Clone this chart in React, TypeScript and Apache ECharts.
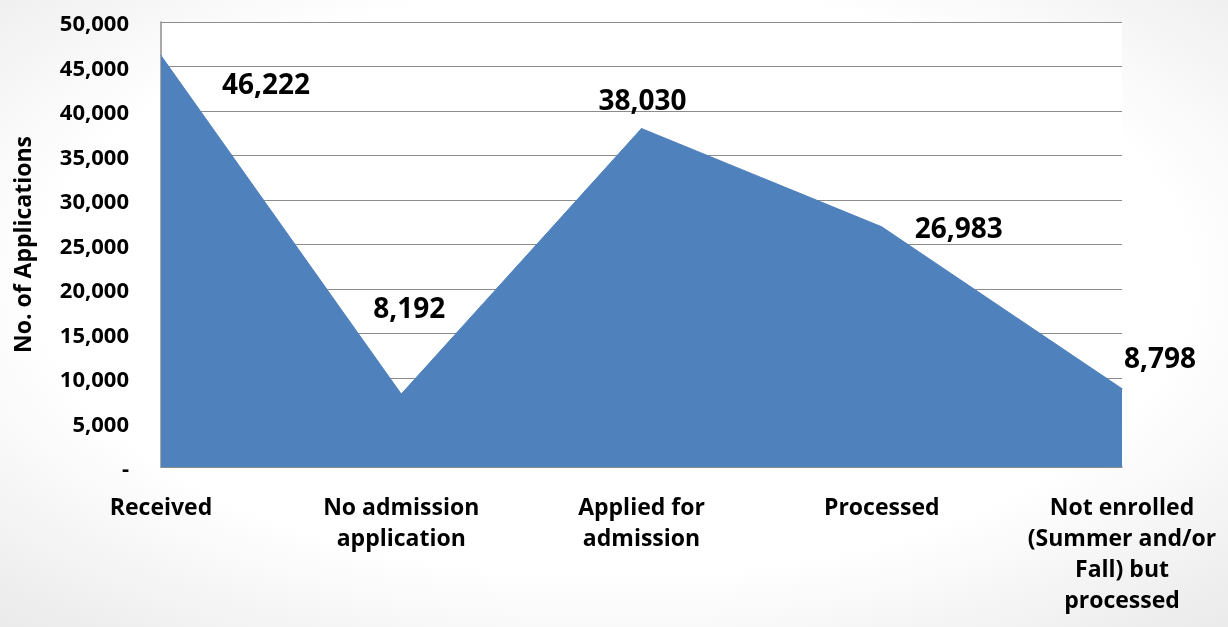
import React, { useEffect, useRef } from "react";
import * as echarts from "echarts";

const categories = [
  "Received",
  "No admission\napplication",
  "Applied for\nadmission",
  "Processed",
  "Not enrolled\n(Summer and/or\nFall) but\nprocessed",
];
const values = [46222, 8192, 38030, 26983, 8798];
const labelOffsets: [number, number][] = [
  [105, 27],
  [8, -87],
  [1, -30],
  [77, 0],
  [38, -32],
];
const yMin = 0;
const yMax = 50000;
const yInterval = 5000;

const FONT = "Open Sans";

export default function App() {
  const ref = useRef<HTMLDivElement>(null);
  useEffect(() => {
    if (!ref.current) return;
    const chart = echarts.init(ref.current, null, { renderer: "svg" });
    chart.setOption({
      animation: false,
      backgroundColor: {
        type: "radial",
        x: 0.5,
        y: 0.45,
        r: 0.85,
        colorStops: [
          { offset: 0, color: "#ffffff" },
          { offset: 0.55, color: "#ffffff" },
          { offset: 1, color: "#e2e2e2" },
        ],
      },
      grid: {
        left: 161,
        right: 106,
        top: 22,
        bottom: 160,
        show: true,
        backgroundColor: "#ffffff",
        borderWidth: 0,
      },
      xAxis: {
        type: "category",
        data: categories,
        boundaryGap: false,
        axisLine: { show: true, lineStyle: { color: "#8c8c8c", width: 1.5 } },
        axisTick: { show: false },
        axisLabel: {
          interval: 0,
          margin: 23,
          color: "#000",
          fontFamily: FONT,
          fontWeight: "bold",
          fontSize: 23,
          lineHeight: 31,
          align: "center",
        },
      },
      yAxis: {
        type: "value",
        min: yMin,
        max: yMax,
        interval: yInterval,
        name: "No. of Applications",
        nameLocation: "middle",
        nameGap: 128,
        nameTextStyle: {
          color: "#000",
          fontFamily: FONT,
          fontWeight: "bold",
          fontSize: 23,
        },
        axisLine: { show: true, lineStyle: { color: "#8c8c8c", width: 1.5 } },
        axisTick: { show: false },
        splitLine: { show: true, lineStyle: { color: "#8c8c8c", width: 1.2 } },
        axisLabel: {
          margin: 32,
          color: "#000",
          fontFamily: FONT,
          fontWeight: "bold",
          fontSize: 22,
          formatter: (v: number) => (v === 0 ? "-" : v.toLocaleString("en-US")),
        },
      },
      series: [
        {
          type: "line",
          data: values.map((v, i) => ({
            value: v,
            label: { offset: labelOffsets[i] },
          })),
          symbol: "circle",
          symbolSize: 1,
          showSymbol: true,
          itemStyle: { color: "#4F81BD" },
          lineStyle: { color: "#4F81BD", width: 1 },
          areaStyle: { color: "#4F81BD", opacity: 1 },
          label: {
            show: true,
            position: "inside",
            color: "#000",
            fontFamily: FONT,
            fontWeight: "bold",
            fontSize: 28,
            formatter: (p: any) => Number(p.value).toLocaleString("en-US"),
          },
        },
      ],
    });
    return () => chart.dispose();
  }, []);
  return (
    <div
      ref={ref}
      style={{ position: "fixed", left: 0, top: 0, width: 1228, height: 627 }}
    />
  );
}
